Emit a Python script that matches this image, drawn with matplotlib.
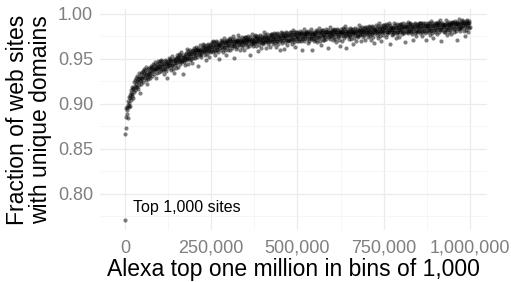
import numpy as np
import matplotlib.pyplot as plt
from matplotlib.ticker import FuncFormatter, FixedLocator

plt.rcParams['font.family'] = ['Liberation Sans', 'DejaVu Sans']

# fraction of web sites with unique domains, one value per bin of 1,000 sites
# (stored in thousandths, 25 bins per row)
unique_frac_milli = [
    771, 866, 873, 885, 895, 889, 896, 893, 884, 899, 903, 896, 907, 901, 910, 898, 906, 912, 904, 915, 909, 918, 911, 906, 916,
    917, 924, 913, 920, 926, 915, 922, 928, 919, 925, 931, 918, 927, 916, 924, 930, 921, 934, 926, 912, 929, 925, 933, 922, 928,
    935, 928, 936, 931, 924, 934, 939, 929, 932, 937, 926, 933, 941, 930, 935, 922, 932, 938, 927, 934, 931, 940, 929, 936, 933,
    941, 935, 942, 938, 931, 940, 944, 936, 939, 943, 933, 940, 946, 937, 942, 928, 938, 944, 940, 934, 942, 939, 947, 935, 941,
    945, 940, 947, 942, 936, 944, 948, 939, 942, 947, 937, 944, 933, 945, 942, 948, 940, 939, 947, 944, 936, 942, 945, 929, 944,
    942, 947, 945, 951, 940, 948, 943, 950, 937, 945, 947, 953, 942, 943, 948, 939, 950, 945, 934, 947, 948, 943, 951, 940, 945,
    951, 954, 946, 949, 952, 941, 955, 951, 947, 944, 954, 949, 952, 946, 957, 947, 949, 933, 951, 954, 946, 952, 949, 943, 951,
    953, 948, 956, 955, 961, 951, 950, 958, 953, 944, 956, 955, 951, 959, 948, 953, 956, 950, 955, 958, 945, 953, 959, 951, 956,
    962, 957, 955, 951, 960, 959, 954, 963, 959, 952, 957, 960, 942, 962, 955, 959, 957, 954, 960, 965, 952, 959, 955, 957, 962,
    958, 963, 966, 957, 960, 965, 954, 962, 963, 958, 948, 960, 965, 962, 955, 963, 966, 958, 960, 952, 962, 965, 957, 963, 958,
    966, 961, 968, 963, 957, 965, 969, 960, 963, 968, 958, 965, 954, 966, 963, 969, 961, 960, 968, 965, 957, 963, 966, 950, 965,
    962, 967, 965, 971, 960, 968, 963, 970, 957, 965, 967, 973, 962, 963, 968, 959, 970, 965, 954, 967, 968, 963, 971, 960, 965,
    969, 972, 964, 967, 970, 959, 973, 969, 965, 962, 972, 967, 970, 964, 975, 965, 967, 951, 969, 972, 964, 970, 967, 961, 969,
    968, 963, 971, 970, 976, 966, 965, 973, 968, 959, 971, 970, 966, 974, 963, 968, 971, 965, 970, 973, 960, 968, 974, 966, 971,
    974, 969, 967, 963, 972, 971, 966, 975, 971, 964, 969, 972, 954, 974, 967, 971, 969, 966, 972, 977, 964, 971, 967, 969, 974,
    968, 973, 976, 967, 970, 975, 964, 972, 973, 968, 958, 970, 975, 972, 965, 973, 976, 968, 970, 962, 972, 975, 967, 973, 968,
    971, 966, 974, 973, 979, 969, 968, 976, 971, 962, 974, 973, 969, 977, 966, 971, 974, 968, 973, 976, 963, 971, 977, 969, 974,
    975, 970, 977, 972, 966, 974, 978, 969, 972, 977, 967, 974, 963, 975, 972, 978, 970, 969, 977, 974, 966, 972, 975, 959, 974,
    971, 976, 979, 970, 973, 978, 967, 975, 976, 971, 961, 973, 978, 975, 968, 976, 979, 971, 973, 965, 975, 978, 970, 976, 971,
    971, 976, 974, 980, 969, 977, 972, 979, 966, 974, 976, 982, 971, 972, 977, 968, 979, 974, 963, 976, 977, 972, 980, 969, 974,
    980, 975, 973, 969, 978, 977, 972, 981, 977, 970, 975, 978, 960, 980, 973, 977, 975, 972, 978, 983, 970, 977, 973, 975, 980,
    977, 980, 972, 975, 978, 967, 981, 977, 973, 970, 980, 975, 978, 972, 983, 973, 975, 959, 977, 980, 972, 978, 975, 969, 977,
    973, 978, 976, 982, 971, 979, 974, 981, 968, 976, 978, 984, 973, 974, 979, 970, 981, 976, 965, 978, 979, 974, 982, 971, 976,
    982, 977, 975, 971, 980, 979, 974, 983, 979, 972, 977, 980, 962, 982, 975, 979, 977, 974, 980, 985, 972, 979, 975, 977, 982,
    980, 975, 982, 977, 971, 979, 983, 974, 977, 982, 972, 979, 968, 980, 977, 983, 975, 974, 982, 979, 971, 977, 980, 964, 979,
    980, 983, 975, 978, 981, 970, 984, 980, 976, 973, 983, 978, 981, 975, 986, 976, 978, 962, 980, 983, 975, 981, 978, 972, 980,
    976, 981, 984, 975, 978, 983, 972, 980, 981, 976, 966, 978, 983, 980, 973, 981, 984, 976, 978, 970, 980, 983, 975, 981, 976,
    979, 974, 982, 981, 987, 977, 976, 984, 979, 970, 982, 981, 977, 985, 974, 979, 982, 976, 981, 984, 971, 979, 985, 977, 982,
    983, 978, 985, 980, 974, 982, 986, 977, 980, 985, 975, 982, 971, 983, 980, 986, 978, 977, 985, 982, 974, 980, 983, 967, 982,
    978, 983, 981, 987, 976, 984, 979, 986, 973, 981, 983, 989, 978, 979, 984, 975, 986, 981, 970, 983, 984, 979, 987, 976, 981,
    984, 987, 979, 982, 985, 974, 988, 984, 980, 977, 987, 982, 985, 979, 990, 980, 982, 966, 984, 987, 979, 985, 982, 976, 984,
    982, 977, 985, 984, 990, 980, 979, 987, 982, 973, 985, 984, 980, 988, 977, 982, 985, 979, 984, 987, 974, 982, 988, 980, 985,
    988, 983, 981, 977, 986, 985, 980, 989, 985, 978, 983, 986, 968, 988, 981, 985, 983, 980, 986, 991, 978, 985, 981, 983, 988,
    981, 986, 989, 980, 983, 988, 977, 985, 986, 981, 971, 983, 988, 985, 978, 986, 989, 981, 983, 975, 985, 988, 980, 986, 981,
    987, 982, 989, 984, 978, 986, 990, 981, 984, 989, 979, 986, 975, 987, 984, 990, 982, 981, 989, 986, 978, 984, 987, 971, 986,
    981, 986, 984, 990, 979, 987, 982, 989, 976, 984, 986, 992, 981, 982, 987, 978, 989, 984, 973, 986, 987, 982, 990, 979, 984,
    987, 990, 982, 985, 988, 977, 991, 987, 983, 980, 990, 985, 988, 982, 993, 983, 985, 969, 987, 990, 982, 988, 985, 979, 987,
    985, 980, 988, 987, 993, 983, 982, 990, 985, 976, 988, 987, 983, 991, 980, 985, 988, 982, 987, 990, 977, 985, 991, 983, 988,
    991, 986, 984, 980, 989, 988, 983, 992, 988, 981, 986, 989, 971, 991, 984, 988, 986, 983, 989, 994, 981, 988, 984, 986, 991,
    985, 990, 993, 984, 987, 992, 981, 989, 990, 985, 975, 987, 992, 989, 982, 990, 993, 985, 987, 979, 989, 992, 984, 990, 985,
]

bin_size = 1000
x_breaks = [0, 250000, 500000, 750000, 1000000]
x_minor = [125000, 375000, 625000, 875000]
y_breaks = [0.80, 0.85, 0.90, 0.95, 1.00]
y_minor = [0.775, 0.825, 0.875, 0.925, 0.975]

bins = np.arange(len(unique_frac_milli)) * bin_size
frac = np.array(unique_frac_milli) / 1000.0

fig = plt.figure(figsize=(5.11, 2.82), dpi=100)
ax = fig.add_axes([100 / 511, 52 / 282, 387 / 511, 221 / 282])

ax.scatter(bins, frac, s=9, color='black', alpha=0.5, linewidths=0, zorder=3)
ax.text(23000, 0.785, 'Top 1,000 sites', fontsize=11.5, va='center', ha='left')

ax.set_xlim(-72000, 1049000)
ax.set_ylim(0.760, 1.005)

ax.xaxis.set_major_locator(FixedLocator(x_breaks))
ax.xaxis.set_minor_locator(FixedLocator(x_minor))
ax.yaxis.set_major_locator(FixedLocator(y_breaks))
ax.yaxis.set_minor_locator(FixedLocator(y_minor))
ax.xaxis.set_major_formatter(FuncFormatter(lambda v, p: f'{int(v):,}'))
ax.yaxis.set_major_formatter(FuncFormatter(lambda v, p: f'{v:.2f}'))

ax.grid(which='major', color='#ebebeb', linewidth=0.9)
ax.grid(which='minor', color='#f3f3f3', linewidth=0.5)
ax.set_axisbelow(True)
for s in ax.spines.values():
    s.set_visible(False)
ax.tick_params(which='both', length=0)
ax.tick_params(axis='x', labelsize=13, labelcolor='#7f7f7f', pad=7)
ax.tick_params(axis='y', labelsize=13, labelcolor='#7f7f7f', pad=5)

ax.set_xlabel('Alexa top one million in bins of 1,000', fontsize=16.5, labelpad=1)
ax.set_ylabel('Fraction of web sites\nwith unique domains', fontsize=16.5,
              labelpad=4, linespacing=1.0)

fig.savefig('out.png', dpi=100)
